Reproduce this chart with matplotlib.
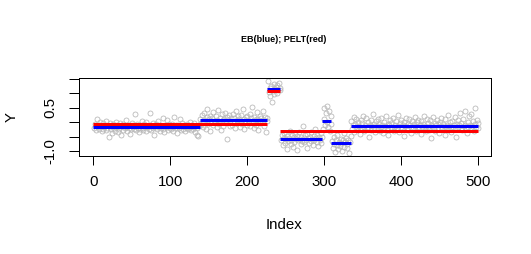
"""
Changepoint comparison: EB segments (blue) vs PELT segments (red)
drawn over the observed series.
"""

import matplotlib
import numpy as np

matplotlib.use("Agg")
import matplotlib.pyplot as plt


seg_a = [
    -0.21, -0.05, -0.28, -0.12, 0.10, -0.18, -0.25, -0.09, 0.02, -0.14,
    -0.31, -0.22, -0.03, -0.17, -0.08, -0.26, 0.04, -0.19, -0.11, -0.50,
    -0.15, -0.02, -0.24, -0.36, -0.13, -0.07, -0.20, -0.29, 0.01, -0.16,
    -0.10, -0.33, -0.23, -0.04, -0.18, -0.44, -0.12, -0.27, -0.06, -0.14,
    -0.21, 0.08, -0.16, -0.30, -0.09, -0.19, -0.42, -0.11, -0.25, -0.03,
    -0.17, -0.08, -0.22, 0.28, -0.14, -0.28, -0.05, -0.20, -0.35, -0.10,
    -0.24, -0.13, 0.03, -0.19, -0.26, -0.07, -0.15, -0.32, -0.01, -0.18,
    -0.12, -0.23, 0.32, -0.09, -0.27, -0.16, -0.04, -0.21, -0.46, -0.11,
    -0.17, -0.06, -0.25, 0.05, -0.14, -0.30, -0.08, -0.20, -0.13, 0.14,
    -0.22, -0.34, -0.10, -0.18, 0.09, -0.15, -0.26, -0.07, -0.19, -0.12,
    -0.24, -0.05, -0.29, -0.16, 0.18, -0.21, -0.11, -0.37, -0.14, -0.08,
    -0.20, 0.11, -0.17, -0.27, -0.03, -0.13, -0.23, -0.09, -0.31, -0.16,
    -0.06, -0.19, -0.25, -0.12, 0.02, -0.18, -0.28, -0.10, -0.15, -0.22,
    -0.04, -0.33, -0.14, -0.20, -0.46, -0.48, -0.12, -0.05,
]
seg_b = [
    0.12, -0.08, 0.25, 0.03, -0.15, 0.31, 0.07, -0.22, 0.18, 0.45,
    -0.05, 0.10, 0.22, -0.30, 0.02, 0.14, -0.11, 0.36, 0.05, -0.02,
    0.20, -0.18, 0.09, 0.41, -0.07, 0.15, 0.01, -0.26, 0.27, 0.06,
    -0.12, 0.11, 0.33, -0.04, 0.19, -0.58, 0.08, 0.24, -0.14, 0.04,
    0.16, -0.09, 0.29, 0.00, 0.13, -0.20, 0.38, 0.07, -0.03, 0.21,
    0.10, -0.16, 0.02, 0.26, -0.06, 0.47, 0.12, -0.24, 0.05, 0.17,
    -0.10, 0.23, 0.08, -0.01, 0.30, -0.13, 0.14, 0.52, 0.03, -0.19,
    0.18, 0.06, -0.08, 0.35, 0.11, -0.28, 0.09, 0.22, -0.04, 0.15,
    0.01, 0.40, -0.12, 0.07, 0.19, -0.35, 0.13, 0.04,
]
seg_c = [
    1.44, 1.05, 0.92, 1.18, 1.25, 0.71, 1.08, 1.32, 0.98, 1.15,
    1.22, 1.02, 1.28, 1.10, 1.35, 1.12, 1.20,
]
seg_d = [
    -0.62, -0.45, -0.80, -0.53, -0.38, -0.71, -0.58, -0.92, -0.49, -0.66,
    -0.55, -0.30, -0.74, -0.61, -0.43, -0.85, -0.52, -0.68, -0.40, -0.59,
    -0.96, -0.48, -0.63, -0.35, -0.57, -0.77, -0.50, -0.65, -0.12, -0.54,
    -0.70, -0.46, -0.60, -0.88, -0.42, -0.56, -0.73, -0.51, -0.33, -0.64,
    -0.58, -0.79, -0.47, -0.61, -0.25, -0.55, -0.69, -0.44, -0.83, -0.52,
    -0.60, -0.39, -0.72, -0.50,
]
seg_e = [-0.25, 0.12, 0.48, -0.08, 0.31, 0.55, 0.02, -0.15, 0.40, -0.32, 0.20, -0.05]
seg_f = [
    -0.65, -0.88, -0.52, -0.74, -1.02, -0.60, -0.79, -0.45, -0.93, -0.68,
    -0.82, -0.57, -0.71, -0.98, -0.63, -0.38, -0.85, -0.70, -0.55, -0.90,
    -0.76, -0.62, -1.05, -0.67, -0.48,
]
seg_g = [
    0.05, -0.22, -0.10, 0.18, -0.35, -0.06, 0.11, -0.18, -0.27, 0.02,
    -0.13, -0.41, 0.08, -0.20, -0.04, 0.22, -0.15, -0.30, -0.08, 0.14,
    -0.24, -0.01, -0.17, -0.52, -0.11, 0.06, -0.26, -0.14, 0.27, -0.07,
    -0.19, -0.33, 0.03, -0.12, -0.23, 0.10, -0.05, -0.29, -0.16, 0.16,
    -0.09, -0.38, -0.21, 0.01, -0.13, 0.20, -0.27, -0.06, -0.44, -0.10,
    0.09, -0.18, -0.02, -0.25, 0.13, -0.15, -0.31, -0.08, 0.04, -0.20,
    -0.12, 0.24, -0.35, -0.03, -0.17, 0.07, -0.22, -0.11, -0.47, 0.00,
    -0.14, 0.15, -0.28, -0.05, -0.19, 0.11, -0.09, -0.36, -0.16, 0.05,
    -0.23, -0.07, 0.19, -0.13, -0.30, -0.01, -0.18, 0.08, -0.25, -0.10,
    -0.40, 0.03, -0.15, -0.06, 0.21, -0.21, -0.12, -0.32, 0.12, -0.04,
    -0.17, -0.26, 0.06, -0.09, -0.55, -0.14, 0.17, -0.20, -0.02, -0.29,
    -0.11, 0.09, -0.24, -0.07, -0.37, 0.02, -0.16, 0.14, -0.22, -0.05,
    -0.13, -0.43, 0.10, -0.18, -0.08, 0.25, -0.27, -0.12, -0.01, -0.20,
    -0.33, 0.04, -0.15, -0.09, 0.18, -0.23, -0.50, -0.06, 0.07, -0.16,
    -0.11, 0.31, -0.19, -0.03, -0.28, 0.12, -0.14, 0.38, -0.08, -0.21,
    -0.39, 0.01, -0.17, 0.22, -0.10, -0.25, 0.29, -0.13, 0.05, -0.30,
    -0.06, 0.48, -0.15, 0.08, -0.20, -0.04,
]

# Segment boundaries (index) and fitted levels
eb_breaks = [0, 138, 226, 243, 297, 309, 334, 500]
eb_levels = [-0.15, 0.06, 1.16, -0.57, 0.03, -0.71, -0.14]
pelt_breaks = [0, 226, 243, 500]
pelt_levels = [-0.07, 1.08, -0.29]

y_ticks = [-1.0, -0.5, 0.0, 0.5, 1.0, 1.5]
y_tick_labels = ["-1.0", "", "", "0.5", "", ""]
x_ticks = [0, 100, 200, 300, 400, 500]


def main():
    plt.rcParams["font.family"] = ["Liberation Sans", "DejaVu Sans"]

    values = np.array(seg_a + seg_b + seg_c + seg_d + seg_e + seg_f + seg_g)
    index = np.arange(1, len(values) + 1)

    figure = plt.figure(figsize=(531 / 72, 254 / 72), dpi=72)
    axis = figure.add_axes([0.1488, 0.3858, 0.7754, 0.3071])

    axis.plot(
        index,
        values,
        linestyle="none",
        marker="o",
        markersize=5,
        markerfacecolor="none",
        markeredgecolor="#B8B8B8",
        markeredgewidth=0.8,
    )

    for start, end, level in zip(eb_breaks[:-1], eb_breaks[1:], eb_levels):
        axis.plot([start, end], [level, level], color="#0000FF", linewidth=3,
                  solid_capstyle="butt")

    for start, end, level in zip(pelt_breaks[:-1], pelt_breaks[1:], pelt_levels):
        axis.plot([start, end], [level, level], color="#FF0000", linewidth=3,
                  solid_capstyle="butt")

    axis.set_xlim(-18.6, 516)
    axis.set_ylim(-1.17, 1.53)

    axis.set_xticks(x_ticks)
    axis.set_yticks(y_ticks)
    axis.set_yticklabels(y_tick_labels, rotation=90, va="center")

    axis.tick_params(axis="x", length=9, width=1, labelsize=15, pad=10)
    axis.tick_params(axis="y", length=10, width=1, labelsize=15, pad=12)

    for spine in axis.spines.values():
        spine.set_linewidth(1)

    figure.text(0.535, 1 - 40 / 254, "EB(blue); PELT(red)", ha="center",
                va="center", fontsize=9, fontweight="bold")
    figure.text(0.535, 1 - 225 / 254, "Index", ha="center", va="center",
                fontsize=15)
    figure.text(12 / 531, 1 - 117 / 254, "Y", ha="center", va="center",
                fontsize=15, rotation=90)

    figure.savefig("out.png", dpi=72)
    plt.close(figure)


if __name__ == "__main__":
    main()
